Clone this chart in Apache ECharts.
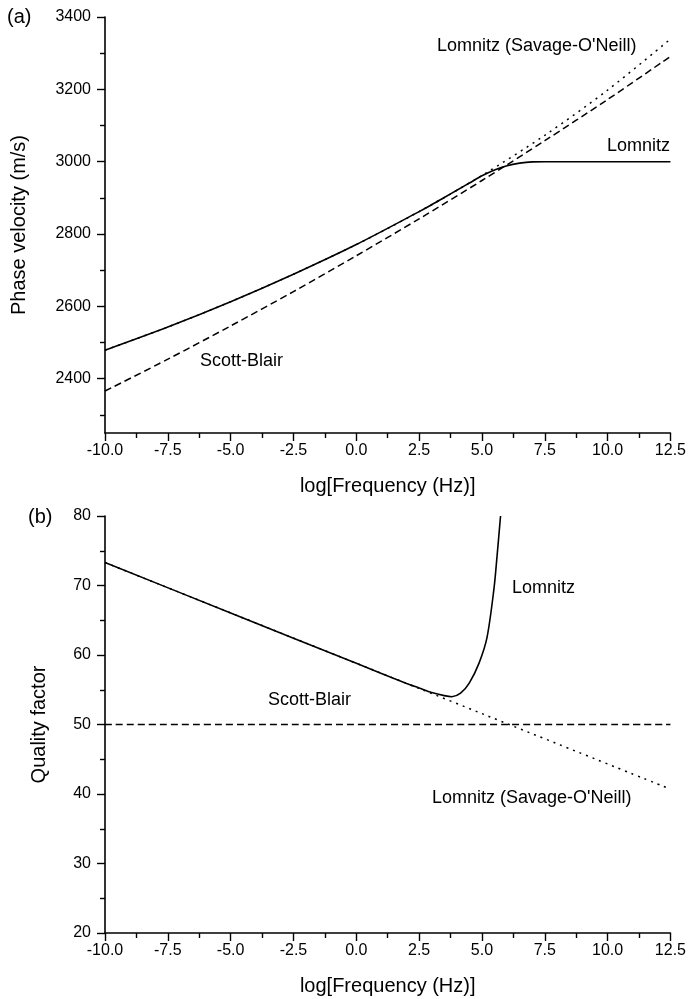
<!DOCTYPE html>
<html>
<head>
<meta charset="utf-8">
<script src="https://cdn.jsdelivr.net/npm/echarts@6/dist/echarts.min.js"></script>
<style>
html,body{margin:0;padding:0;background:#fff;}
#chart{width:689px;height:999px;}
</style>
</head>
<body>
<div id="chart"></div>
<script>
// ---- Data ----
// (a) Phase velocity (m/s) vs log[Frequency (Hz)]
const freqA = [-10, -7.5, -5, -2.5, 0, 2.5, 5, 7.5, 10, 12.5];
const savageA = [2479, 2543, 2613, 2689, 2771, 2862, 2962, 3073, 3198, 3339];
const scottA = [2366, 2454, 2546, 2641, 2740, 2842, 2948, 3058, 3172, 3291];
const lomnitzFreqA = [-10, -7.5, -5, -2.5, 0, 2.5, 3, 3.5, 4, 4.5, 5, 5.5, 6, 6.5, 7, 7.5, 12.5];
const lomnitzA = [2479, 2543, 2613, 2689, 2771, 2862, 2881, 2901, 2921, 2941, 2961, 2977, 2989, 2996, 2999.5, 3000, 3000];

// (b) Quality factor vs log[Frequency (Hz)]
const freqB = [-10, 12.5];
const savageB = [73.3, 40.7];
const scottB = [50, 50];
const lomnitzFreqB = [-10, -5, 0, 2, 2.5, 3, 3.5, 3.8, 4.15, 4.5, 4.88, 5.2, 5.48, 5.6, 5.74];
const lomnitzB = [73.3, 66.05, 58.8, 55.9, 55.25, 54.6, 54.15, 54.0, 54.5, 56.0, 58.8, 62.5, 69.6, 74.2, 80];

// Tick values
const xTicks = {min: -10, max: 12.5, interval: 2.5};
const yMajorA = [2400, 2600, 2800, 3000, 3200, 3400];
const yMinorA = [2300, 2500, 2700, 2900, 3100, 3300];

const pair = (xs, ys) => xs.map((x, i) => [x, ys[i]]);

const FONT = "'Liberation Sans', Arial, sans-serif";
const black = '#000';

function xAxisCfg(gridIndex) {
  return {
    type: 'value', gridIndex,
    min: xTicks.min, max: xTicks.max, interval: xTicks.interval,
    name: 'log[Frequency (Hz)]', nameLocation: 'middle', nameGap: 43,
    nameTextStyle: {color: black, fontSize: 20, fontFamily: FONT},
    axisLine: {show: true, onZero: false, lineStyle: {color: black, width: 1.6}},
    axisTick: {show: true, length: 8, lineStyle: {color: black, width: 1.4}},
    minorTick: {show: true, splitNumber: 2, length: 5, lineStyle: {color: black, width: 1.4}},
    splitLine: {show: false},
    axisLabel: {color: black, fontSize: 16, fontFamily: FONT, margin: 10,
      formatter: v => v.toFixed(1)}
  };
}

const lineSeries = (xi, yi, data, type) => ({
  type: 'line', xAxisIndex: xi, yAxisIndex: yi, data, showSymbol: false, symbol: 'none',
  smooth: 0.3,
  lineStyle: {color: black, width: type === 'solid' ? 1.6 : 1.5,
    type: type === 'dashed' ? [7, 4] : (type === 'dotted' ? [2, 5] : 'solid')},
  animation: false
});

const chart = echarts.init(document.getElementById('chart'), null, {renderer: 'canvas'});

chart.setOption({
  backgroundColor: '#fff',
  animation: false,
  grid: [
    {left: 105, right: 17, top: 17, height: 416},
    {left: 105, right: 17, top: 516, height: 417}
  ],
  xAxis: [xAxisCfg(0), xAxisCfg(1)],
  yAxis: [
    {
      type: 'value', gridIndex: 0, min: 2250, max: 3400, position: 'left',
      name: 'Phase velocity (m/s)', nameLocation: 'middle', nameGap: 76, nameRotate: 90,
      nameTextStyle: {color: black, fontSize: 20, fontFamily: FONT},
      axisLine: {show: true, onZero: false, lineStyle: {color: black, width: 1.6}},
      axisTick: {show: true, length: 8, customValues: yMajorA, lineStyle: {color: black, width: 1.4}},
      splitLine: {show: false},
      axisLabel: {color: black, fontSize: 16, fontFamily: FONT, margin: 14, customValues: yMajorA,
        formatter: v => String(v)}
    },
    {
      type: 'value', gridIndex: 0, min: 2250, max: 3400, position: 'left',
      axisLine: {show: false, onZero: false},
      axisTick: {show: true, length: 5, customValues: yMinorA, lineStyle: {color: black, width: 1.4}},
      splitLine: {show: false},
      axisLabel: {show: false}
    },
    {
      type: 'value', gridIndex: 1, min: 20, max: 80, interval: 10, position: 'left',
      name: 'Quality factor', nameLocation: 'middle', nameGap: 56, nameRotate: 90,
      nameTextStyle: {color: black, fontSize: 20, fontFamily: FONT},
      axisLine: {show: true, onZero: false, lineStyle: {color: black, width: 1.6}},
      axisTick: {show: true, length: 8, lineStyle: {color: black, width: 1.4}},
      minorTick: {show: true, splitNumber: 2, length: 5, lineStyle: {color: black, width: 1.4}},
      splitLine: {show: false},
      axisLabel: {color: black, fontSize: 16, fontFamily: FONT, margin: 14}
    }
  ],
  series: [
    lineSeries(0, 0, pair(lomnitzFreqA, lomnitzA), 'solid'),
    lineSeries(0, 0, pair(freqA, scottA), 'dashed'),
    lineSeries(0, 0, pair(freqA, savageA), 'dotted'),
    lineSeries(1, 2, pair(lomnitzFreqB, lomnitzB), 'solid'),
    lineSeries(1, 2, pair(freqB, scottB), 'dashed'),
    lineSeries(1, 2, pair(freqB, savageB), 'dotted')
  ],
  graphic: [
    {type: 'text', x: 7, y: 17, style: {text: '(a)', font: '20px ' + FONT, fill: black, verticalAlign: 'middle'}},
    {type: 'text', x: 28, y: 517, style: {text: '(b)', font: '20px ' + FONT, fill: black, verticalAlign: 'middle'}},
    {type: 'text', x: 437, y: 46, style: {text: "Lomnitz (Savage-O'Neill)", font: '18px ' + FONT, fill: black, verticalAlign: 'middle'}},
    {type: 'text', x: 607, y: 146, style: {text: 'Lomnitz', font: '18px ' + FONT, fill: black, verticalAlign: 'middle'}},
    {type: 'text', x: 200, y: 361, style: {text: 'Scott-Blair', font: '18px ' + FONT, fill: black, verticalAlign: 'middle'}},
    {type: 'text', x: 512, y: 588, style: {text: 'Lomnitz', font: '18px ' + FONT, fill: black, verticalAlign: 'middle'}},
    {type: 'text', x: 268, y: 700, style: {text: 'Scott-Blair', font: '18px ' + FONT, fill: black, verticalAlign: 'middle'}},
    {type: 'text', x: 432, y: 798, style: {text: "Lomnitz (Savage-O'Neill)", font: '18px ' + FONT, fill: black, verticalAlign: 'middle'}}
  ]
});
</script>
</body>
</html>
